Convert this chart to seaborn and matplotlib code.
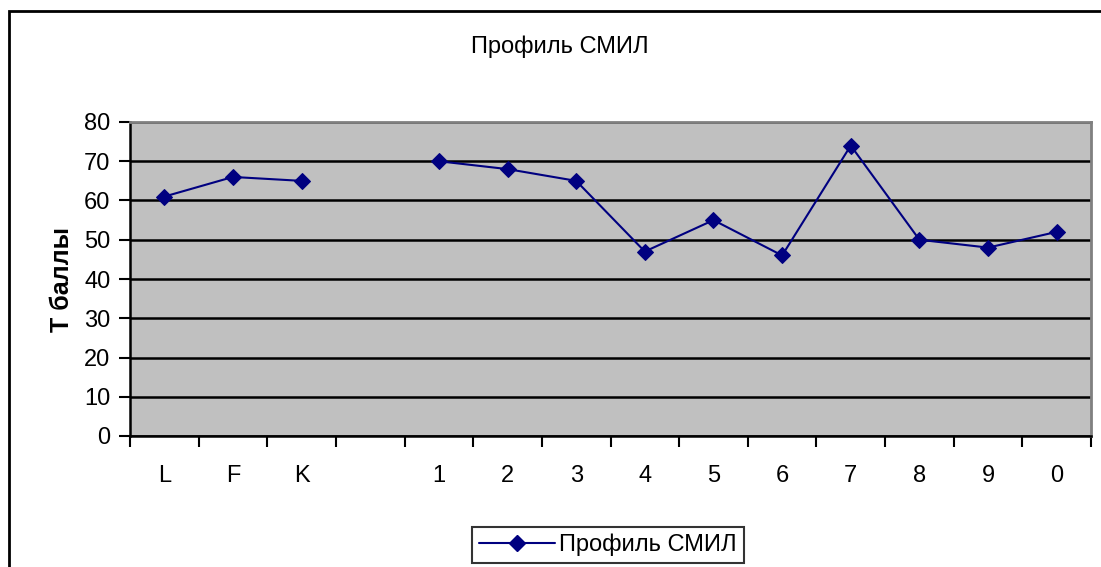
import matplotlib
matplotlib.use('Agg')
import matplotlib.pyplot as plt
import seaborn as sns
import numpy as np
import pandas as pd
from matplotlib.lines import Line2D
from matplotlib.patches import Rectangle

# categories of the MMPI-style profile (blank slot between K and 1)
categories = ['L', 'F', 'K', '', '1', '2', '3', '4', '5', '6', '7', '8', '9', '0']
t_scores = [61, 66, 65, np.nan, 70, 68, 65, 47, 55, 46, 74, 50, 48, 52]
segments = [0, 0, 0, -1, 1, 1, 1, 1, 1, 1, 1, 1, 1, 1]
series_name = 'Профиль СМИЛ'
y_ticks = [0, 10, 20, 30, 40, 50, 60, 70, 80]

df = pd.DataFrame({'pos': np.arange(len(categories)), 'T': t_scores, 'seg': segments})
df = df.dropna()

sns.set_theme(style='white')
plt.rcParams['font.family'] = ['Liberation Sans', 'DejaVu Sans']
plt.rcParams['text.color'] = 'black'
plt.rcParams['axes.labelcolor'] = 'black'
plt.rcParams['xtick.color'] = 'black'
plt.rcParams['ytick.color'] = 'black'

line_color = '#000080'
fs = 17

fig = plt.figure(figsize=(11.01, 5.67), dpi=100)
ax = fig.add_axes([130 / 1101, 1 - 436 / 567, (1091 - 130) / 1101, (436 - 122) / 567])

sns.lineplot(data=df, x='pos', y='T', units='seg', estimator=None, ax=ax,
             color=line_color, linewidth=1.5, marker='D', markersize=8,
             markeredgecolor=line_color, legend=False)

ax.set_facecolor('#C0C0C0')
ax.set_xlim(-0.5, len(categories) - 0.5)
ax.set_ylim(0, 80)
ax.set_yticks(y_ticks)
ax.yaxis.grid(True, color='black', linewidth=1.8)
ax.xaxis.grid(False)
ax.set_axisbelow(True)

# category labels centred, ticks on the boundaries
ax.set_xticks(np.arange(len(categories) + 1) - 0.5)
ax.set_xticklabels([])
ax.set_xticks(np.arange(len(categories)), minor=True)
ax.set_xticklabels(categories, minor=True, fontsize=fs)
ax.tick_params(axis='x', which='major', direction='out', length=8, width=1.5, color='black', bottom=True)
ax.tick_params(axis='x', which='minor', length=0, pad=21)
ax.tick_params(axis='y', direction='out', length=8, width=1.5, color='black', left=True,
               labelsize=fs, pad=6)

for side in ['top', 'right']:
    ax.spines[side].set_color('#808080')
    ax.spines[side].set_linewidth(2)
for side in ['left', 'bottom']:
    ax.spines[side].set_color('black')
    ax.spines[side].set_linewidth(1.8)

ax.set_xlabel('')
ax.set_ylabel('Т баллы', fontsize=18, fontweight='bold', labelpad=7)

fig.text(560 / 1101, 1 - 47 / 567, series_name, ha='center', va='center', fontsize=fs)

handle = Line2D([], [], color=line_color, linewidth=1.5, marker='D', markersize=8)
leg = fig.legend([handle], [series_name], loc='center', bbox_to_anchor=(608 / 1101, 1 - 545 / 567),
                 fontsize=fs, frameon=True, fancybox=False, edgecolor='black',
                 handlelength=3.2, borderpad=0.3, handletextpad=0.2, borderaxespad=0)
leg.get_frame().set_linewidth(1.5)

# outer chart border
fig.patches.append(Rectangle((9 / 1101, -0.05), 1.1, 1 - 11 / 567 + 0.05, transform=fig.transFigure,
                             fill=False, edgecolor='black', linewidth=2))

fig.savefig('out.png', dpi=100)
